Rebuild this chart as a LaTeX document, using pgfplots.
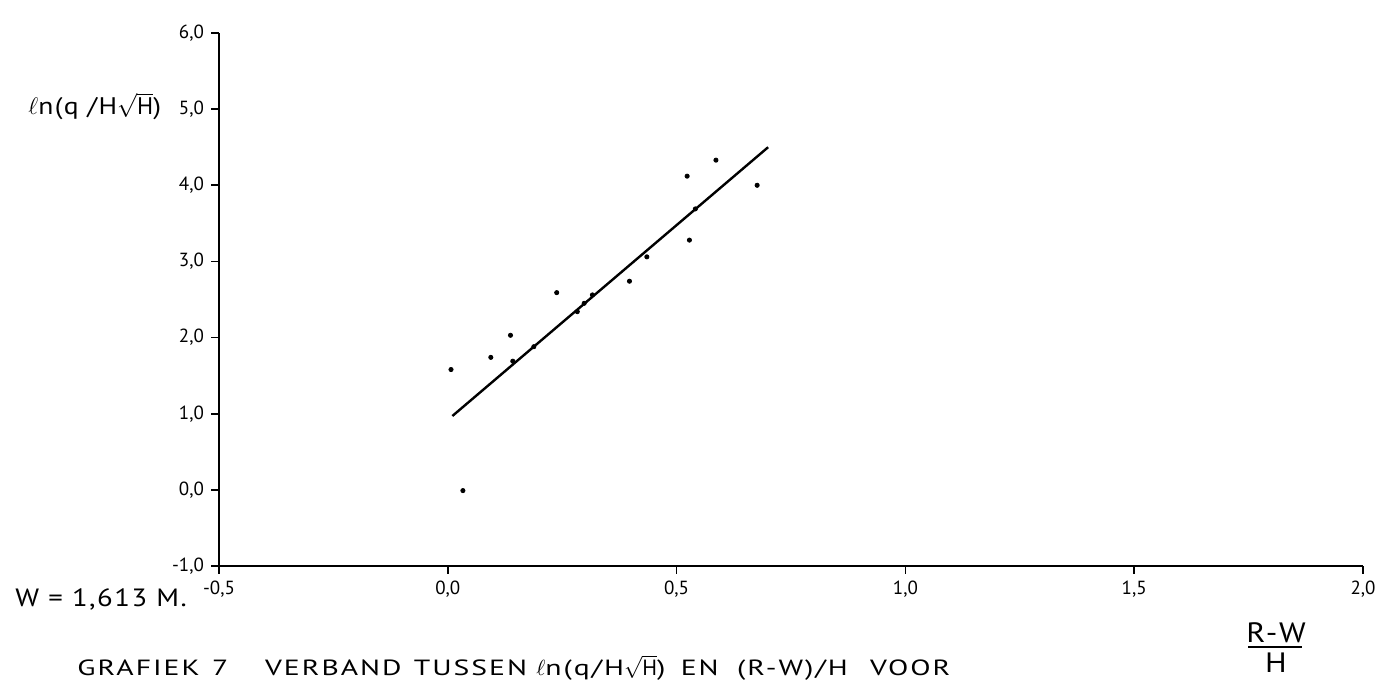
\documentclass[border=0pt]{standalone}
\usepackage{fontspec}
\setmainfont{PT Sans}
\newfontfamily\titlefont[FakeStretch=1.15, LetterSpace=6]{PT Sans}
\newfontfamily\widefont[FakeStretch=1.35, LetterSpace=9]{PT Sans}
\usepackage{pgfplots}
\pgfplotsset{compat=1.18}
\newcommand{\g}[1]{\hspace{0pt plus #1fill}}
\begin{document}
\begin{tikzpicture}
\useasboundingbox (-109.5pt,-58.5pt) rectangle (583pt,283pt);
\begin{axis}[
  at={(0pt,0pt)}, anchor=south west,
  scale only axis, width=572pt, height=266.5pt,
  xmin=-0.5, xmax=2.0, ymin=-1, ymax=6,
  axis lines=left, axis line style={-, line width=1pt},
  xtick={-0.5,0,0.5,1,1.5,2}, ytick={-1,0,1,2,3,4,5,6},
  tick align=outside, major tick length=4pt,
  tick style={line width=0.8pt, black},
  /pgf/number format/use comma,
  /pgf/number format/fixed,
  /pgf/number format/fixed zerofill,
  /pgf/number format/precision=1,
  /pgf/number format/assume math mode=true,
  ticklabel style={font=\fontsize{9.5pt}{11pt}\selectfont},
  clip=false,
]
\addplot[only marks, mark=*, mark size=1.05pt, black] table {
x y
0.007 1.58
0.033 -0.01
0.094 1.74
0.137 2.03
0.142 1.69
0.188 1.88
0.238 2.59
0.283 2.34
0.298 2.45
0.316 2.56
0.397 2.74
0.435 3.06
0.523 4.12
0.528 3.28
0.541 3.69
0.586 4.33
0.676 4.00
};
\addplot[line width=1.2pt, black] coordinates {(0.01,0.97) (0.70,4.50)};
\end{axis}
% labels
\node[anchor=base west, inner sep=0pt, font=\titlefont\fontsize{12pt}{14pt}\selectfont] at (-95.5pt,225.5pt) {$\ell$n(q /H$\sqrt{\mathrm{H}}$)};
\node[anchor=base west, inner sep=0pt, font=\titlefont\fontsize{12.5pt}{15pt}\selectfont] at (-102pt,-20.5pt) {W = 1,613 M.};
\node[anchor=base west, inner sep=0pt, font=\widefont\fontsize{11pt}{13pt}\selectfont] at (-71pt,-55pt)
  {\makebox[436.5pt][l]{GRAFIEK\g{1}7\g{3}VERBAND\g{1}TUSSEN\g{0.75}$\ell$n(q/H$\sqrt{\mathrm{H}}$)\g{1.25}EN\g{1.5}(R-W)/H\g{1.8}VOOR}};
\node[anchor=base, inner sep=0pt, font=\titlefont\fontsize{14pt}{16pt}\selectfont] at (528.5pt,-38.5pt) {R-W};
\draw[line width=0.8pt] (514.5pt,-40.5pt) -- (541.5pt,-40.5pt);
\node[anchor=base, inner sep=0pt, font=\titlefont\fontsize{14pt}{16pt}\selectfont] at (528.5pt,-53.5pt) {H};
\end{tikzpicture}
\end{document}
